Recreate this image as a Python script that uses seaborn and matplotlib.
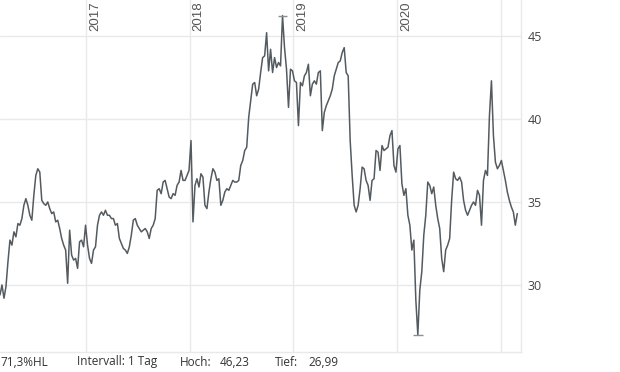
import pandas as pd
import matplotlib
matplotlib.use("Agg")
import matplotlib.pyplot as plt
import seaborn as sns

# Wochenwerte, ab 05.03.2016
start = "2016-03-05"
kurs = [
    29.4, 30.0, 29.2, 29.9, 31.4, 32.7, 32.4, 33.2, 32.9, 33.7,
    33.6, 34.0, 34.8, 35.2, 34.8, 34.2, 33.9, 35.4, 36.6, 37.0,
    36.8, 35.1, 34.9, 34.8, 35.0, 34.6, 34.3, 34.4, 33.8, 33.9,
    33.4, 32.8, 32.4, 32.1, 30.1, 33.3, 31.8, 31.5, 31.6, 31.0,
    32.6, 32.7, 32.3, 33.6, 32.4, 31.6, 31.3, 32.1, 32.3, 33.6,
    34.2, 34.4, 34.2, 34.5, 34.2, 34.2, 34.0, 34.0, 33.6, 33.7,
    32.8, 32.5, 32.2, 32.1, 31.9, 32.3, 33.0, 33.9, 34.0, 33.6,
    33.4, 33.2, 33.3, 33.4, 33.2, 32.8, 33.4, 33.6, 34.0, 35.7,
    35.8, 35.5, 36.2, 36.3, 35.8, 35.3, 35.2, 35.5, 35.4, 36.0,
    36.2, 36.9, 36.3, 36.3, 36.6, 36.9, 38.7, 33.8, 36.0, 36.4,
    35.9, 36.7, 36.5, 34.8, 34.6, 35.6, 36.4, 37.0, 36.8, 36.3,
    36.4, 34.8, 35.1, 35.6, 35.8, 35.7, 36.0, 36.3, 36.2, 36.2,
    36.3, 37.2, 37.5, 38.1, 38.3, 40.1, 41.1, 42.1, 42.2, 41.4,
    41.8, 42.8, 43.7, 43.8, 45.2, 42.9, 44.2, 42.8, 43.7, 43.1,
    43.4, 43.2, 46.23, 44.3, 43.0, 40.7, 43.0, 42.9, 42.3, 42.2,
    39.6, 42.2, 42.0, 42.6, 42.8, 43.3, 41.4, 42.1, 42.3, 42.1,
    42.8, 42.9, 39.3, 40.4, 40.8, 41.1, 41.4, 41.8, 42.6, 43.0,
    43.4, 43.5, 44.0, 44.3, 42.8, 42.6, 38.7, 36.6, 34.8, 34.4,
    34.8, 35.8, 37.1, 37.0, 36.3, 36.0, 35.1, 36.3, 36.4, 38.1,
    38.0, 36.9, 38.4, 38.1, 38.2, 38.3, 39.0, 39.3, 37.2, 36.8,
    38.2, 38.4, 36.1, 35.4, 35.8, 34.2, 33.6, 32.1, 32.7, 29.1,
    26.99, 29.7, 30.8, 33.0, 34.2, 36.2, 36.0, 35.5, 35.9, 34.8,
    34.0, 33.4, 31.6, 30.8, 32.1, 32.4, 32.8, 35.1, 36.8, 36.4,
    36.3, 36.5, 36.2, 35.1, 34.5, 34.2, 34.5, 34.8, 35.0, 34.8,
    35.7, 35.4, 33.6, 36.3, 36.9, 36.6, 40.2, 42.3, 39.0, 37.4,
    37.0, 37.2, 37.5, 36.9, 36.3, 35.6, 35.1, 34.7, 34.4, 33.6,
    34.3,
]
jahre = [2017, 2018, 2019, 2020, 2021]
jahr_labels = ["2017", "2018", "2019", "2020", ""]
y_ticks = [30, 35, 40, 45]
hoch = 46.23
tief = 26.99

df = pd.DataFrame({"datum": pd.date_range(start, periods=len(kurs), freq="7D"), "kurs": kurs})

sns.set_style("white")
plt.rcParams["font.family"] = ["Open Sans", "DejaVu Sans"]

fig = plt.figure(figsize=(6.2, 3.72), dpi=100)
ax = fig.add_axes([0, 20 / 372, 521 / 620, 352 / 372])

grid_c = "#e9e9e9"
for y in y_ticks:
    ax.axhline(y, color=grid_c, lw=1, zorder=0)
for j in jahre:
    ax.axvline(pd.Timestamp(f"{j}-01-01"), color=grid_c, lw=1, zorder=0)

sns.lineplot(data=df, x="datum", y="kurs", ax=ax, color="#545b60", lw=1.1)

# Hoch/Tief-Markierung
for wert in (hoch, tief):
    d = df.loc[df["kurs"] == wert, "datum"].iloc[0]
    ax.hlines(wert, d - pd.Timedelta(days=17), d + pd.Timedelta(days=17), color="#8a8f93", lw=1)

ax.set_xlim(pd.Timestamp("2016-03-05"), pd.Timestamp("2021-03-12"))
ax.set_ylim(25.96, 47.17)
ax.set_xlabel("")
ax.set_ylabel("")
ax.set_xticks([])
ax.yaxis.tick_right()
ax.set_yticks(y_ticks)
ax.set_yticklabels([str(t) for t in y_ticks])
ax.tick_params(axis="y", length=0, pad=5, labelsize=9, labelcolor="#444444")

for s in ["top", "left"]:
    ax.spines[s].set_visible(False)
for s in ["right", "bottom"]:
    ax.spines[s].set_color(grid_c)
    ax.spines[s].set_linewidth(1)

for j, lab in zip(jahre, jahr_labels):
    ax.text(pd.Timestamp(f"{j}-01-01") + pd.Timedelta(days=11), 0.995, lab,
            transform=ax.get_xaxis_transform(), rotation=90, ha="left", va="top",
            fontsize=9.5, color="#555555", family=["Liberation Sans", "DejaVu Sans"])

hl = (hoch - tief) / tief * 100
txt_c = "#333333"
yb = 10 / 372
fs = 8.5
fig.text(0 / 620, yb, f"{hl:.1f}%HL".replace(".", ","), fontsize=fs, color=txt_c, va="center")
fig.text(77 / 620, yb, "Intervall: 1 Tag", fontsize=fs, color=txt_c, va="center")
fig.text(180 / 620, yb, "Hoch:", fontsize=fs, color=txt_c, va="center")
fig.text(220 / 620, yb, f"{hoch:.2f}".replace(".", ","), fontsize=fs, color=txt_c, va="center")
fig.text(275 / 620, yb, "Tief:", fontsize=fs, color=txt_c, va="center")
fig.text(308 / 620, yb, f"{tief:.2f}".replace(".", ","), fontsize=fs, color=txt_c, va="center")

fig.savefig("out.png", dpi=100)
